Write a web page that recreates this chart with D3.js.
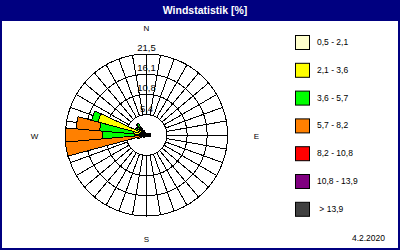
<!DOCTYPE html>
<html>
<head>
<meta charset="utf-8">
<script src="https://cdn.jsdelivr.net/npm/d3@7/dist/d3.min.js"></script>
<style>
body { margin: 0; background: #fff; }
svg { display: block; }
text { font-family: "Liberation Sans", Arial, sans-serif; }
</style>
</head>
<body>
<svg id="chart" width="400" height="250"></svg>
<script>
// wind directions (degrees), one sector each
var directions = [0, 10, 20, 30, 40, 50, 60, 70, 80, 90, 100, 110,
                  120, 130, 140, 150, 160, 170, 180, 190, 200, 210, 220, 230,
                  240, 250, 260, 270, 280, 290, 300, 310, 320, 330, 340, 350];

// frequency [%] per speed class and direction
var class1 = [0.4, 0.4, 0.4, 0.5, 0.6, 0.7, 0.9, 1.1, 1.2, 1.2, 1.1, 0.9,
              0.7, 0.6, 0.5, 0.4, 0.4, 0.4, 0.4, 0.4, 0.5, 0.5, 0.6, 0.7,
              0.8, 0.7, 0.6, 1.2, 1.4, 1.8, 1.4, 1.1, 1.0, 0.8, 0.6, 0.5];
var class2 = [0, 0, 0, 0, 0, 0, 0, 0, 0, 0, 0, 0,
              0, 0, 0, 0, 0, 0, 0, 0, 0, 0, 0, 0.2,
              0.3, 0.5, 0.4, 2.0, 2.2, 11.5, 1.4, 1.5, 1.6, 0.6, 0, 0];
var class3 = [0, 0, 0, 0, 0, 0, 0, 0, 0, 0, 0, 0,
              0, 0, 0, 0, 0, 0, 0, 0, 0, 0, 0, 0,
              0, 0.5, 1.0, 8.5, 8.9, 1.8, 0.5, 0.5, 1.2, 0, 0, 0];
var class4 = [0, 0, 0, 0, 0, 0, 0, 0, 0, 0, 0, 0,
              0, 0, 0, 0, 0, 0, 0, 0, 0, 0, 0, 0,
              0, 0.8, 19.6, 9.8, 6.3, 0, 0, 0, 0, 0, 0, 0];
var class5 = directions.map(function () { return 0; });
var class6 = directions.map(function () { return 0; });
var class7 = directions.map(function () { return 0; });

var classLabels = ["0,5 - 2,1", "2,1 - 3,6", "3,6 - 5,7", "5,7 - 8,2",
                   "8,2 - 10,8", "10,8 - 13,9", " > 13,9"];
var classColors = ["#ffffcc", "#ffff00", "#00ff00", "#ff8000",
                   "#ff0000", "#800080", "#404040"];

var ringValues = [5.4, 10.8, 16.1, 21.5];
var ringLabels = ["5,4", "10,8", "16,1", "21,5"];
var dateLabel = "4.2.2020";

var keys = ["c1", "c2", "c3", "c4", "c5", "c6", "c7"];
var classData = [class1, class2, class3, class4, class5, class6, class7];

var rows = directions.map(function (dir, i) {
    var row = { dir: dir };
    keys.forEach(function (k, j) { row[k] = classData[j][i]; });
    return row;
});

var svg = d3.select("#chart");
var cx = 146.5, cy = 135, rMax = 81;

// frame
svg.append("rect").attr("width", 400).attr("height", 250).attr("fill", "#000080");
svg.append("rect").attr("x", 2).attr("y", 21).attr("width", 396).attr("height", 227)
    .attr("fill", "#fff");
svg.append("text")
    .attr("x", 205).attr("y", 14)
    .attr("text-anchor", "middle")
    .attr("fill", "#fff")
    .attr("font-size", "10.5px")
    .attr("font-weight", "bold")
    .text("Windstatistik [%]");

var r = d3.scaleLinear().domain([0, 21.5]).range([0, rMax]);
var ang = d3.scaleLinear().domain([0, 360]).range([0, 2 * Math.PI]);

var g = svg.append("g").attr("transform", "translate(" + cx + "," + cy + ")");

// grid
var grid = g.append("g")
    .attr("fill", "none")
    .attr("stroke", "#000")
    .attr("stroke-width", 1)
    .attr("shape-rendering", "crispEdges");
grid.selectAll("circle")
    .data(ringValues)
  .enter().append("circle")
    .attr("r", function (d) { return r(d); });

grid.selectAll("line")
    .data(directions)
  .enter().append("line")
    .attr("x1", function (d) { return r(ringValues[0]) * Math.sin(ang(d)); })
    .attr("y1", function (d) { return -r(ringValues[0]) * Math.cos(ang(d)); })
    .attr("x2", function (d) { return r(ringValues[ringValues.length - 1]) * Math.sin(ang(d)); })
    .attr("y2", function (d) { return -r(ringValues[ringValues.length - 1]) * Math.cos(ang(d)); });

// stacked sectors
var series = d3.stack().keys(keys)(rows);

var arc = d3.arc()
    .innerRadius(function (d) { return r(d[0]); })
    .outerRadius(function (d) { return r(d[1]); })
    .startAngle(function (d) { return ang(d.data.dir - 5); })
    .endAngle(function (d) { return ang(d.data.dir + 5); });

g.selectAll(".layer")
    .data(series)
  .enter().append("g")
    .attr("class", "layer")
    .attr("fill", function (d, i) { return classColors[i]; })
  .selectAll("path")
    .data(function (d) { return d.filter(function (p) { return p[1] > p[0]; }); })
  .enter().append("path")
    .attr("d", arc)
    .attr("stroke", "#000")
    .attr("stroke-width", 1)
    .attr("shape-rendering", "crispEdges");

// ring labels
g.selectAll(".ringlabel")
    .data(ringValues)
  .enter().append("text")
    .attr("class", "ringlabel")
    .attr("x", 0)
    .attr("y", function (d) { return -r(d) - 3; })
    .attr("text-anchor", "middle")
    .attr("font-size", "9.5px")
    .text(function (d, i) { return ringLabels[i]; });

// compass
var compass = [
    { t: "N", x: 0, y: -104 },
    { t: "E", x: 110, y: 4 },
    { t: "S", x: 0, y: 107 },
    { t: "W", x: -112, y: 4 }
];
g.selectAll(".compass")
    .data(compass)
  .enter().append("text")
    .attr("class", "compass")
    .attr("x", function (d) { return d.x; })
    .attr("y", function (d) { return d.y; })
    .attr("text-anchor", "middle")
    .attr("font-size", "8px")
    .text(function (d) { return d.t; });

// legend
var legend = svg.append("g").attr("transform", "translate(295,35)");
var item = legend.selectAll(".item")
    .data(classLabels)
  .enter().append("g")
    .attr("class", "item")
    .attr("transform", function (d, i) { return "translate(0," + (i * 27.8) + ")"; });

item.append("rect")
    .attr("x", 0.5).attr("y", 0.5)
    .attr("width", 14).attr("height", 14)
    .attr("fill", function (d, i) { return classColors[i]; })
    .attr("stroke", "#000");

item.append("text")
    .attr("x", 22).attr("y", 10)
    .attr("font-size", "8.5px")
    .style("white-space", "pre")
    .text(function (d) { return d; });

svg.append("text")
    .attr("x", 385).attr("y", 241)
    .attr("text-anchor", "end")
    .attr("font-size", "8.5px")
    .text(dateLabel);
</script>
</body>
</html>
